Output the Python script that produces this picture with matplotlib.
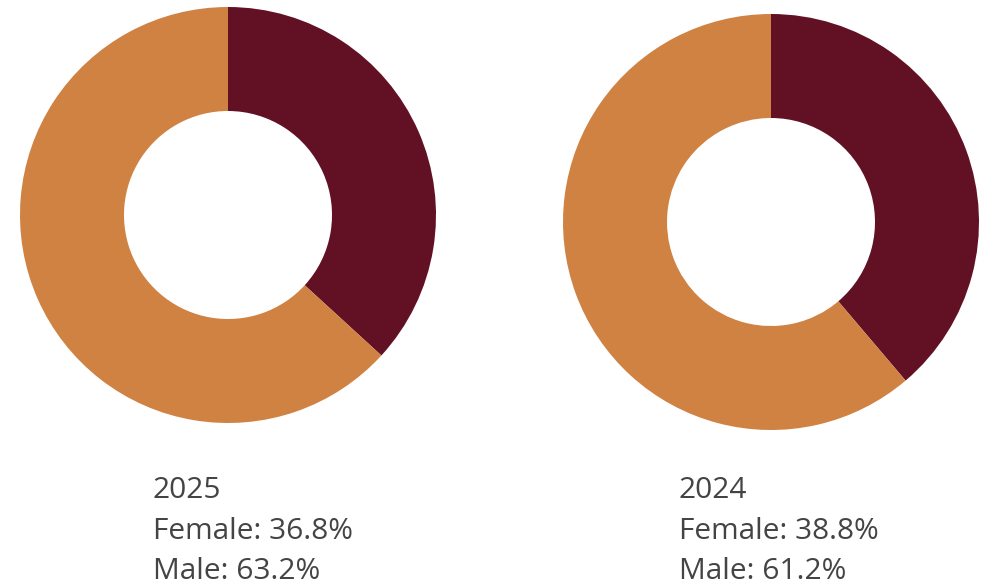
import matplotlib
matplotlib.use("Agg")
import matplotlib.pyplot as plt

years = ["2025", "2024"]
female_pct = [36.8, 38.8]
male_pct = [63.2, 61.2]

FEMALE_COLOR = "#621125"
MALE_COLOR = "#D08243"
TEXT_COLOR = "#444444"

W, H = 995, 586
fig = plt.figure(figsize=(W / 100, H / 100), dpi=100)
fig.patch.set_facecolor("white")

# donut centers (pixels, image coords) and text anchors
centers = [(228, 215), (771, 222)]
text_x = [153, 679]
radius_px = 208

for i, year in enumerate(years):
    cx, cy = centers[i]
    ax = fig.add_axes([(cx - radius_px) / W, (H - cy - radius_px) / H,
                       2 * radius_px / W, 2 * radius_px / H])
    ax.pie([female_pct[i], male_pct[i]], colors=[FEMALE_COLOR, MALE_COLOR],
           startangle=90, counterclock=False, radius=1.0,
           wedgeprops=dict(width=0.5, linewidth=0))
    ax.set_xlim(-1, 1)
    ax.set_ylim(-1, 1)
    ax.set_aspect("equal")
    ax.axis("off")

    lines = [year, f"Female: {female_pct[i]}%", f"Male: {male_pct[i]}%"]
    baselines = [498, 539, 579]
    for txt, by in zip(lines, baselines):
        fig.text(text_x[i] / W, (H - by) / H, txt, fontsize=21.5,
                 family="Open Sans", color=TEXT_COLOR, va="baseline", ha="left")

fig.savefig("out.png", dpi=100, facecolor="white")
